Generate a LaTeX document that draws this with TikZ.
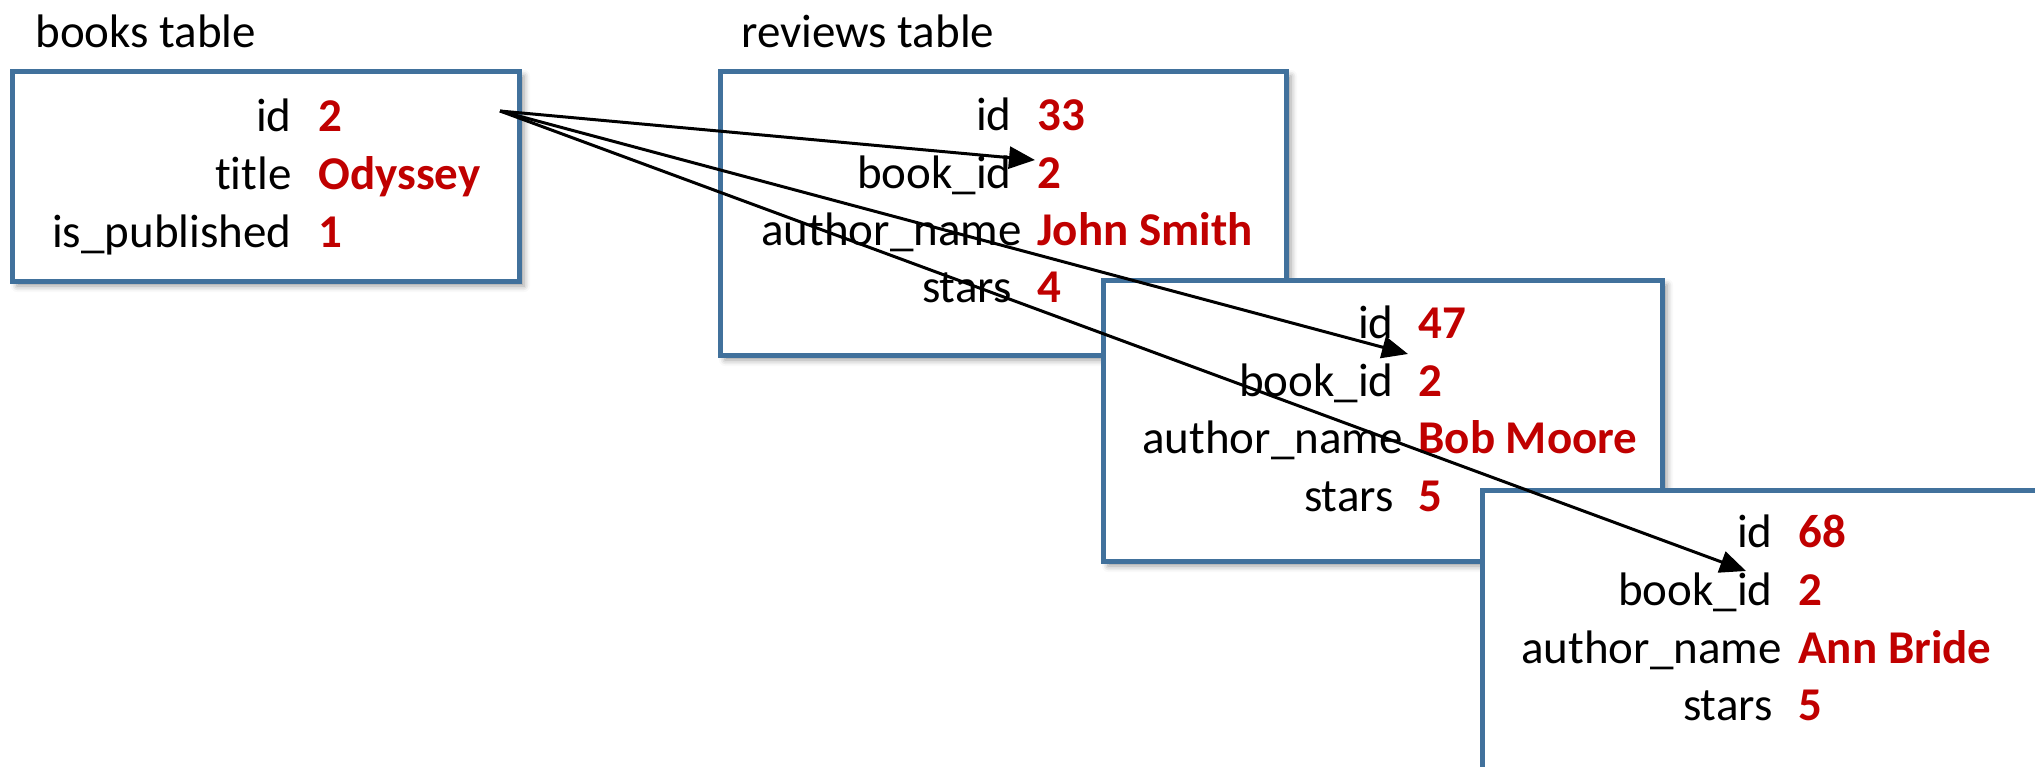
\documentclass[tikz,border=0pt]{standalone}
\usepackage{fontspec}
\setmainfont[Ligatures={NoCommon}]{Carlito}
\usetikzlibrary{arrows.meta,shadows.blur}
\definecolor{boxblue}{HTML}{41719C}
\definecolor{valred}{HTML}{C00000}
\begin{document}
\begin{tikzpicture}[x=0.5pt,y=-0.5pt,
  tbl/.style={draw=boxblue, line width=2.5pt, fill=white, rectangle,
    anchor=north west, inner sep=0pt, outer sep=0pt,
    blur shadow={shadow xshift=2.5pt, shadow yshift=-2.5pt,
      shadow blur radius=3pt, shadow opacity=40}},
  txt/.style={inner sep=0pt, font=\fontsize{23.5pt}{28pt}\selectfont},
  key/.style={txt, anchor=base east},
  val/.style={txt, anchor=base west, text=valred,
    font=\fontsize{23.5pt}{28pt}\selectfont\bfseries},
  caption/.style={txt, anchor=base west},
  link/.style={line width=1.5pt, -{Triangle[length=13pt,width=11pt]}}]

\useasboundingbox (0,0) rectangle (2035,766);

% table captions
\node[caption] (cbooks) at (35,47) {books table};
\node[caption] (creviews) at (741,47) {reviews table};

% books row
\node[tbl, minimum width=507*0.5pt, minimum height=210*0.5pt] (books) at (12,71) {};
\node[key] (bk1) at (292,131) {id};
\node[val] (bv1) at (318,131) {2};
\node[key] (bk2) at (292,189) {title};
\node[val] (bv2) at (318,189) {Odyssey};
\node[key] (bk3) at (292,247) {is\_published};
\node[val] (bv3) at (318,247) {1};

% review rows, later ones stacked over earlier ones
\node[tbl, minimum width=566*0.5pt, minimum height=284*0.5pt] (rev1) at (720,71) {};
\node[key] (ak1) at (1012,130) {id};
\node[val] (av1) at (1037,130) {33};
\node[key] (ak2) at (1012,188) {book\_id};
\node[val] (av2) at (1037,188) {2};
\node[key] (ak3) at (1022,245) {author\_name};
\node[val] (av3) at (1037,245) {John Smith};
\node[key] (ak4) at (1012,302) {stars};
\node[val] (av4) at (1037,302) {4};

\node[tbl, minimum width=559*0.5pt, minimum height=281*0.5pt] (rev2) at (1103,280) {};
\node[key] (ck1) at (1394,338) {id};
\node[val] (cv1) at (1418,338) {47};
\node[key] (ck2) at (1394,396) {book\_id};
\node[val] (cv2) at (1418,396) {2};
\node[key] (ck3) at (1403,453) {author\_name};
\node[val] (cv3) at (1418,453) {Bob Moore};
\node[key] (ck4) at (1394,511) {stars};
\node[val] (cv4) at (1418,511) {5};

\node[tbl, minimum width=640*0.5pt, minimum height=320*0.5pt] (rev3) at (1482,490) {};
\node[key] (dk1) at (1773,547) {id};
\node[val] (dv1) at (1798,547) {68};
\node[key] (dk2) at (1773,605) {book\_id};
\node[val] (dv2) at (1798,605) {2};
\node[key] (dk3) at (1782,663) {author\_name};
\node[val] (dv3) at (1798,663) {Ann Bride};
\node[key] (dk4) at (1773,720) {stars};
\node[val] (dv4) at (1798,720) {5};

% foreign key references
\coordinate (src) at (500,111);
\coordinate (t1) at (1035,160);
\coordinate (t2) at (1408,354);
\coordinate (t3) at (1746,571);
\draw[link] (src) -- (t1);
\draw[link] (src) -- (t2);
\draw[link] (src) -- (t3);
\end{tikzpicture}
\end{document}
